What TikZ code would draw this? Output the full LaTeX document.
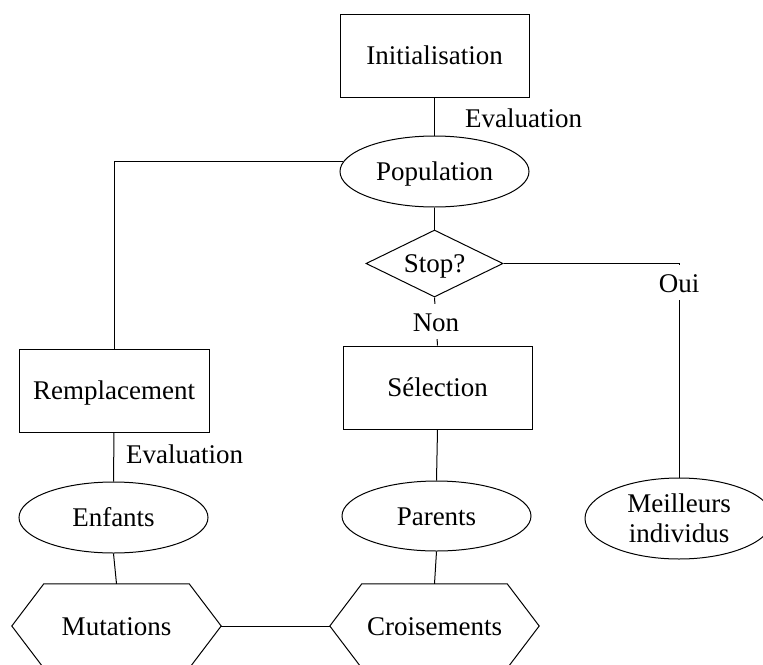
\documentclass[tikz,border=0pt]{standalone}
\usepackage{fontspec}
\setmainfont{Liberation Serif}
\usetikzlibrary{shapes.geometric}

% Outline of a flat-topped hexagon drawn round a rectangular node
\newcommand\hexoutline[1]{%
  \draw[link] (#1.west) -- ([xshift=32pt]#1.north west)
    -- ([xshift=-32pt]#1.north east) -- (#1.east)
    -- ([xshift=-32pt]#1.south east) -- ([xshift=32pt]#1.south west) -- cycle;}

\begin{document}
\begin{tikzpicture}[x=1pt,y=-1pt,
  every node/.style={font=\fontsize{27}{30}\selectfont},
  link/.style={draw=black, line width=1pt},
  outline/.style={draw=black, line width=1pt, inner sep=0pt},
  base/.style={outline, text height=18pt, text depth=0pt},
  stepbox/.style={base, rectangle, minimum width=189pt, minimum height=83pt},
  state/.style={base, ellipse, minimum width=189pt, minimum height=71pt},
  result/.style={outline, ellipse, align=center, minimum width=188pt, minimum height=81pt},
  test/.style={base, diamond, shape aspect=2, minimum width=137pt, minimum height=67pt},
  oper/.style={rectangle, inner sep=0pt, minimum width=209pt, minimum height=84pt,
               text height=18pt, text depth=0pt},
  tag/.style={fill=white, inner sep=8pt, text height=19pt, text depth=0pt},
  note/.style={inner sep=0pt, anchor=base west}
]
\useasboundingbox (0,0) rectangle (763,664);

% Nodes
\node[stepbox] (init) at (434.5,55.5) {Initialisation};
\node[state]   (pop)  at (434.5,171.5) {Population};
\node[test]    (stop) at (434.5,263.5) {Stop?};
\node[stepbox] (sel)  at (437.5,387.5) {Sélection};
\node[state, minimum height=70pt] (par) at (436.5,516) {Parents};
\node[oper]    (cro)  at (434.5,626) {Croisements};
\node[oper]    (mut)  at (116.5,626) {Mutations};
\node[state]   (enf)  at (113.5,517.5) {Enfants};
\node[stepbox, minimum width=190pt] (rep) at (114,390.5) {Remplacement};
\node[result]  (mei)  at (679,518.5) {Meilleurs\\individus};

\hexoutline{cro}
\hexoutline{mut}

% Evaluation notes beside the links
\node[note] (evalA) at (465,127) {Evaluation};
\node[note] (evalB) at (126,463) {Evaluation};

% Connectors
\draw[link] (init.south) -- (pop.north);
\draw[link] (pop.south) -- (stop.north);
\draw[link] (stop.south) -- node[tag] (non) {Non} (sel.north);
\draw[link] (sel.south) -- (par.north);
\draw[link] (par.south) -- (cro.north);
\draw[link] (cro.west) -- (mut.east);
\draw[link] (mut.north) -- (enf.south);
\draw[link] (enf.north) -- (rep.south);
\draw[link] (rep.north) |- (pop.174);
\draw[link] (stop.east) -| (mei.north);
\node[tag, anchor=north, yshift=-1.5pt] (oui) at (stop.east -| mei.north) {Oui};
\end{tikzpicture}
\end{document}
